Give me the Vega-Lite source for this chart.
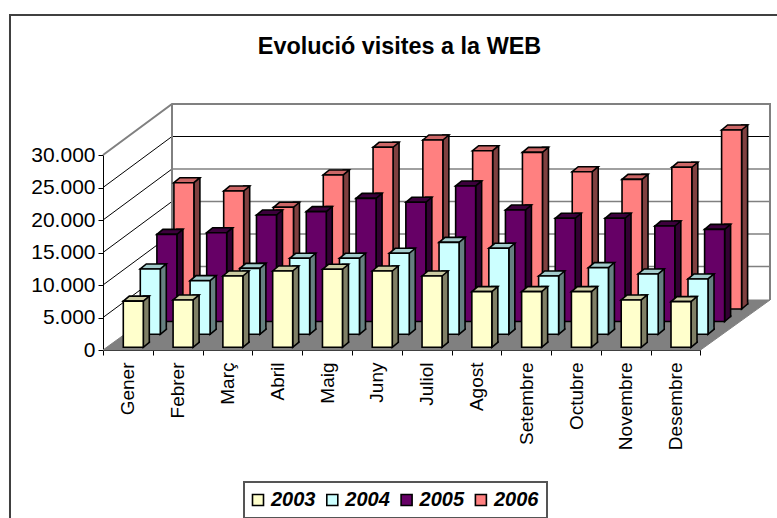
{"$schema":"https://vega.github.io/schema/vega-lite/v6.json","width":777,"height":518,"padding":0,"autosize":"none","background":"white","view":{"stroke":null},
"config":{"font":"Liberation Sans","legend":{"strokeWidth":2}},
"title":{"text":"Evolució visites a la WEB","anchor":"middle","frame":"group","offset":-59,"dx":11,"font":"Liberation Sans","fontSize":23.4,"fontWeight":"bold","color":"black"},
"data":{"values":[
{"month":"Gener","series":"2003","value":7100},{"month":"Febrer","series":"2003","value":7280},{"month":"Març","series":"2003","value":10970},{"month":"Abril","series":"2003","value":11740},{"month":"Maig","series":"2003","value":12000},{"month":"Juny","series":"2003","value":11740},{"month":"Juliol","series":"2003","value":10970},{"month":"Agost","series":"2003","value":8560},{"month":"Setembre","series":"2003","value":8560},{"month":"Octubre","series":"2003","value":8560},{"month":"Novembre","series":"2003","value":7280},{"month":"Desembre","series":"2003","value":7020},
{"month":"Gener","series":"2004","value":10050},{"month":"Febrer","series":"2004","value":8250},{"month":"Març","series":"2004","value":10150},{"month":"Abril","series":"2004","value":11690},{"month":"Maig","series":"2004","value":11690},{"month":"Juny","series":"2004","value":12460},{"month":"Juliol","series":"2004","value":14150},{"month":"Agost","series":"2004","value":13230},{"month":"Setembre","series":"2004","value":8970},{"month":"Octubre","series":"2004","value":10250},{"month":"Novembre","series":"2004","value":9280},{"month":"Desembre","series":"2004","value":8510},
{"month":"Gener","series":"2005","value":13410},{"month":"Febrer","series":"2005","value":13660},{"month":"Març","series":"2005","value":16380},{"month":"Abril","series":"2005","value":16900},{"month":"Maig","series":"2005","value":18950},{"month":"Juny","series":"2005","value":18340},{"month":"Juliol","series":"2005","value":20850},{"month":"Agost","series":"2005","value":17150},{"month":"Setembre","series":"2005","value":15880},{"month":"Octubre","series":"2005","value":15880},{"month":"Novembre","series":"2005","value":14690},{"month":"Desembre","series":"2005","value":14180},
{"month":"Gener","series":"2006","value":19430},{"month":"Febrer","series":"2006","value":18150},{"month":"Març","series":"2006","value":15650},{"month":"Abril","series":"2006","value":20620},{"month":"Maig","series":"2006","value":24880},{"month":"Juny","series":"2006","value":26000},{"month":"Juliol","series":"2006","value":24350},{"month":"Agost","series":"2006","value":24100},{"month":"Setembre","series":"2006","value":21120},{"month":"Octubre","series":"2006","value":19950},{"month":"Novembre","series":"2006","value":21800},{"month":"Desembre","series":"2006","value":27540}
]},
"encoding":{
"x":{"field":"month","type":"nominal","title":null,"scale":{"type":"band","domain":["Gener","Febrer","Març","Abril","Maig","Juny","Juliol","Agost","Setembre","Octubre","Novembre","Desembre"],"range":[103,700.5],"paddingInner":0,"paddingOuter":0},"axis":{"offset":-168,"labelAngle":270,"labelFontSize":19,"labelColor":"black","labelFont":"Liberation Sans","labelPadding":7,"tickBand":"extent","tickColor":"black","tickSize":5,"domainColor":"black","labelOverlap":false,"labelBound":false,"labelFlush":false}},
"y":{"field":"value","type":"quantitative","title":null,"scale":{"domain":[0,30000],"range":[350,155],"nice":false},"axis":{"offset":-103,"values":[0,5000,10000,15000,20000,25000,30000],"labelExpr":"replace(format(datum.value,','),',','.')","labelFontSize":21,"labelColor":"black","labelFont":"Liberation Sans","labelPadding":3,"tickColor":"black","tickSize":5,"domainColor":"black","grid":false,"labelOverlap":false}}
},
"layer":[
{"data":{"values":[{"value":30000}]},"mark":{"type":"point","filled":false,"opacity":1,"size":4,"stroke":"#404040","strokeWidth":2,"shape":"M-117.9,370 L-117.9,-140 L655,-140"},"encoding":{"x":{"datum":"Gener","type":"nominal"}}},
{"data":{"values":[{"value":0}]},"mark":{"type":"point","filled":true,"opacity":1,"size":4,"fill":"#808080","stroke":"#808080","strokeWidth":1,"shape":"M-24.9,0 L44.1,-50 L642.1,-50 L572.6,0 Z"},"encoding":{"x":{"datum":"Gener","type":"nominal"}}},
{"data":{"values":[{"value":5000},{"value":10000},{"value":15000},{"value":20000}]},"mark":{"type":"point","filled":false,"opacity":1,"size":4,"stroke":"#808080","strokeWidth":1.6,"shape":"M44.1,-51 L642.1,-51"},"encoding":{"x":{"datum":"Gener","type":"nominal"}}},
{"data":{"values":[{"value":25000}]},"mark":{"type":"point","filled":false,"opacity":1,"size":4,"stroke":"black","strokeWidth":1,"shape":"M44.1,-51 L642.1,-51"},"encoding":{"x":{"datum":"Gener","type":"nominal"}}},
{"data":{"values":[{"value":5000},{"value":10000},{"value":15000},{"value":20000},{"value":25000}]},"mark":{"type":"point","filled":false,"opacity":1,"size":4,"stroke":"black","strokeWidth":1,"shape":"M-24.9,0 L44.1,-51"},"encoding":{"x":{"datum":"Gener","type":"nominal"}}},
{"data":{"values":[{"value":30000}]},"mark":{"type":"point","filled":false,"opacity":1,"size":4,"stroke":"#808080","strokeWidth":2,"shape":"M-24.9,0 L44.1,-51 L642.1,-51 L642.1,145 M44.1,-51 L44.1,145"},"encoding":{"x":{"datum":"Gener","type":"nominal"}}},
{"transform":[{"filter":"datum.series=='2006'"}],"layer":[
{"mark":{"type":"bar","width":6,"xOffset":69,"yOffset":-46,"y2Offset":-46,"fill":"#804040","stroke":"black","strokeWidth":1.6}},
{"mark":{"type":"point","filled":true,"opacity":1,"size":4,"fill":"#804040","stroke":"black","strokeWidth":1.6,"xOffset":66,"yOffset":-41,"shape":"M0,-6.5 L0,0 L6,-5 L6,-6.5"},"encoding":{"y":{"datum":0}}},
{"mark":{"type":"point","filled":true,"opacity":1,"size":4,"fill":"#CC6666","stroke":"black","strokeWidth":1.6,"xOffset":46,"yOffset":-41,"shape":"M0,0 L6,-5 L26,-5 L20,0 Z"}},
{"mark":{"type":"bar","width":20,"xOffset":56,"yOffset":-41,"y2Offset":-41,"stroke":"black","strokeWidth":1.6},"encoding":{"fill":{"field":"series","type":"nominal"}}}
]},
{"transform":[{"filter":"datum.series=='2005'"}],"layer":[
{"mark":{"type":"bar","width":6,"xOffset":52,"yOffset":-33.5,"y2Offset":-33.5,"fill":"#330033","stroke":"black","strokeWidth":1.6}},
{"mark":{"type":"point","filled":true,"opacity":1,"size":4,"fill":"#330033","stroke":"black","strokeWidth":1.6,"xOffset":49,"yOffset":-28.5,"shape":"M0,-6.5 L0,0 L6,-5 L6,-6.5"},"encoding":{"y":{"datum":0}}},
{"mark":{"type":"point","filled":true,"opacity":1,"size":4,"fill":"#3D003D","stroke":"black","strokeWidth":1.6,"xOffset":29,"yOffset":-28.5,"shape":"M0,0 L6,-5 L26,-5 L20,0 Z"}},
{"mark":{"type":"bar","width":20,"xOffset":39,"yOffset":-28.5,"y2Offset":-28.5,"stroke":"black","strokeWidth":1.6},"encoding":{"fill":{"field":"series","type":"nominal"}}}
]},
{"transform":[{"filter":"datum.series=='2004'"}],"layer":[
{"mark":{"type":"bar","width":6,"xOffset":35.4,"yOffset":-20.7,"y2Offset":-20.7,"fill":"#668080","stroke":"black","strokeWidth":1.6}},
{"mark":{"type":"point","filled":true,"opacity":1,"size":4,"fill":"#668080","stroke":"black","strokeWidth":1.6,"xOffset":32.4,"yOffset":-15.7,"shape":"M0,-6.5 L0,0 L6,-5 L6,-6.5"},"encoding":{"y":{"datum":0}}},
{"mark":{"type":"point","filled":true,"opacity":1,"size":4,"fill":"#A3CCCC","stroke":"black","strokeWidth":1.6,"xOffset":12.4,"yOffset":-15.7,"shape":"M0,0 L6,-5 L26,-5 L20,0 Z"}},
{"mark":{"type":"bar","width":20,"xOffset":22.4,"yOffset":-15.7,"y2Offset":-15.7,"stroke":"black","strokeWidth":1.6},"encoding":{"fill":{"field":"series","type":"nominal"}}}
]},
{"transform":[{"filter":"datum.series=='2003'"}],"layer":[
{"mark":{"type":"bar","width":6,"xOffset":18.4,"yOffset":-7.7,"y2Offset":-7.7,"fill":"#808066","stroke":"black","strokeWidth":1.6}},
{"mark":{"type":"point","filled":true,"opacity":1,"size":4,"fill":"#808066","stroke":"black","strokeWidth":1.6,"xOffset":15.4,"yOffset":-2.7,"shape":"M0,-6.5 L0,0 L6,-5 L6,-6.5"},"encoding":{"y":{"datum":0}}},
{"mark":{"type":"point","filled":true,"opacity":1,"size":4,"fill":"#CCCCA3","stroke":"black","strokeWidth":1.6,"xOffset":-4.6,"yOffset":-2.7,"shape":"M0,0 L6,-5 L26,-5 L20,0 Z"}},
{"mark":{"type":"bar","width":20,"xOffset":5.4,"yOffset":-2.7,"y2Offset":-2.7,"stroke":"black","strokeWidth":1.6},"encoding":{"fill":{"field":"series","type":"nominal","title":null,"scale":{"domain":["2003","2004","2005","2006"],"range":["#FFFFCC","#CCFFFF","#660066","#FF8080"]},"legend":{"orient":"none","legendX":244,"legendY":482,"direction":"horizontal","columns":4,"symbolType":"square","symbolSize":121,"symbolOffset":-4,"symbolStrokeColor":"black","symbolStrokeWidth":1.6,"labelFont":"Liberation Sans","labelFontSize":20,"labelFontStyle":"italic","labelFontWeight":"bold","labelColor":"black","labelOffset":3,"columnPadding":7.3,"padding":8,"strokeColor":"#555555","fillColor":"white"}}}}
]}
]}
